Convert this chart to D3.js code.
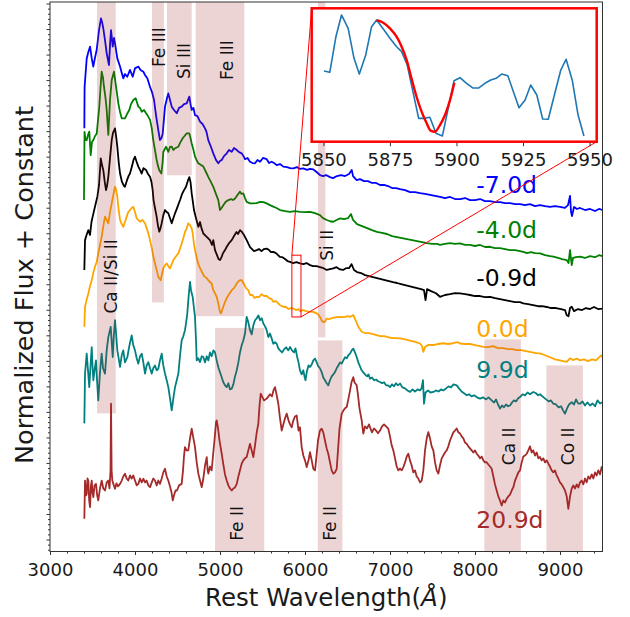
<!DOCTYPE html>
<html>
<head>
<meta charset="utf-8">
<script src="https://cdn.jsdelivr.net/npm/d3@7"></script>
<style>
  body { margin: 0; background: #fff; }
  svg { display: block; }
  text { font-family: "DejaVu Sans", sans-serif; }
</style>
</head>
<body>
<svg id="chart" width="630" height="617"></svg>
<script>
// ---------- spectra: [rest wavelength (Å), normalized flux + constant] ----------
const specM70 = [[3404,16.11],[3407,17.74],[3432,18.85],[3451,19.10],[3471,19.31],[3491,18.85],[3509,18.53],[3529,18.87],[3549,19.18],[3577,19.96],[3600,20.42],[3612,20.28],[3627,20.03],[3647,19.57],[3667,19.05],[3694,18.59],[3706,19.38],[3718,19.96],[3738,19.31],[3753,19.65],[3765,19.44],[3792,18.85],[3824,18.53],[3841,18.32],[3862,18.07],[3882,18.24],[3909,18.13],[3941,18.40],[3973,18.13],[4000,18.46],[4039,18.53],[4065,18.40],[4098,18.33],[4118,18.20],[4145,18.07],[4176,17.74],[4200,17.53],[4224,17.22],[4247,16.63],[4274,16.04],[4294,15.65],[4312,15.73],[4326,15.91],[4353,16.96],[4377,17.30],[4392,17.48],[4412,17.22],[4432,16.96],[4459,16.83],[4491,16.70],[4518,16.91],[4549,16.96],[4577,17.06],[4608,17.09],[4639,17.35],[4653,17.06],[4667,16.83],[4688,16.91],[4706,16.63],[4735,16.59],[4765,16.37],[4794,16.28],[4824,16.11],[4841,15.97],[4862,15.65],[4894,15.38],[4921,15.13],[4953,14.87],[4980,14.74],[5000,14.83],[5020,14.87],[5047,15.02],[5079,15.13],[5106,15.26],[5138,15.19],[5165,15.34],[5197,15.26],[5224,15.18],[5255,15.13],[5277,15.02],[5294,14.90],[5324,14.95],[5353,14.80],[5383,14.75],[5412,14.74],[5441,14.87],[5471,14.80],[5506,14.95],[5549,14.90],[5577,14.75],[5608,14.80],[5636,14.75],[5667,14.67],[5706,14.71],[5745,14.61],[5788,14.59],[5824,14.55],[5863,14.54],[5906,14.59],[5941,14.52],[5980,14.54],[6024,14.48],[6059,14.52],[6098,14.50],[6136,14.40],[6176,14.28],[6212,14.24],[6247,14.28],[6294,14.20],[6329,14.16],[6377,14.24],[6424,14.28],[6471,14.24],[6518,14.32],[6550,14.48],[6565,14.24],[6608,14.08],[6647,14.12],[6694,14.04],[6741,14.04],[6788,13.97],[6836,13.97],[6883,13.89],[6930,13.89],[6977,13.85],[7024,13.77],[7071,13.77],[7118,13.73],[7177,13.69],[7236,13.61],[7294,13.61],[7353,13.57],[7412,13.54],[7471,13.50],[7530,13.46],[7588,13.42],[7647,13.38],[7706,13.42],[7765,13.34],[7824,13.34],[7883,13.38],[7941,13.30],[8000,13.30],[8059,13.34],[8118,13.26],[8177,13.26],[8236,13.22],[8295,13.22],[8353,13.18],[8412,13.18],[8471,13.14],[8530,13.14],[8589,13.10],[8647,13.14],[8706,13.06],[8765,13.10],[8824,13.06],[8883,13.03],[8942,13.06],[9000,13.03],[9059,12.99],[9094,13.10],[9118,13.46],[9130,12.83],[9141,12.67],[9165,13.03],[9200,12.95],[9235,12.99],[9294,12.91],[9353,12.95],[9412,12.87],[9459,12.95],[9500,12.91]];

const specM40 = [[3400,13.30],[3406,15.97],[3418,15.65],[3432,15.65],[3447,15.85],[3462,15.98],[3479,15.06],[3494,15.57],[3510,15.65],[3530,15.81],[3550,15.91],[3565,16.44],[3580,16.96],[3594,17.69],[3608,18.33],[3624,18.08],[3635,17.74],[3653,17.30],[3667,16.83],[3686,15.85],[3706,17.22],[3726,18.00],[3753,18.33],[3777,17.74],[3804,17.09],[3824,16.75],[3844,16.50],[3882,16.50],[3906,16.67],[3933,16.83],[3953,17.06],[3980,17.22],[4008,17.29],[4039,16.96],[4059,16.91],[4079,16.76],[4106,16.83],[4130,16.70],[4153,16.59],[4177,16.44],[4197,16.12],[4215,15.65],[4235,15.26],[4255,14.87],[4271,14.63],[4286,14.47],[4310,14.34],[4324,14.75],[4333,15.19],[4365,15.39],[4392,15.19],[4412,15.38],[4432,15.39],[4453,15.26],[4471,15.33],[4510,15.39],[4535,15.57],[4561,15.72],[4583,15.81],[4608,15.91],[4639,15.91],[4653,15.73],[4667,15.52],[4688,15.26],[4706,15.00],[4724,14.87],[4745,14.74],[4777,14.67],[4804,14.61],[4835,14.40],[4862,14.21],[4894,14.00],[4921,13.82],[4953,13.53],[4980,13.30],[5000,12.91],[5018,12.99],[5039,13.10],[5065,13.22],[5098,13.30],[5130,13.34],[5153,13.30],[5177,13.36],[5206,13.50],[5235,13.63],[5253,13.54],[5274,13.56],[5294,13.38],[5314,13.23],[5353,13.17],[5392,13.17],[5430,13.18],[5471,13.23],[5512,13.22],[5549,13.17],[5588,13.10],[5627,13.04],[5665,12.99],[5706,12.91],[5765,12.87],[5824,12.84],[5883,12.87],[5941,12.84],[6000,12.83],[6059,12.84],[6118,12.79],[6176,12.71],[6212,12.59],[6256,12.52],[6294,12.47],[6333,12.45],[6371,12.52],[6412,12.58],[6459,12.55],[6506,12.59],[6541,12.75],[6565,12.52],[6612,12.36],[6671,12.28],[6730,12.20],[6788,12.12],[6847,12.05],[6906,12.01],[6965,11.97],[7024,11.89],[7083,11.85],[7142,11.81],[7200,11.77],[7259,11.73],[7318,11.69],[7377,11.65],[7436,11.61],[7494,11.58],[7553,11.58],[7588,11.54],[7647,11.58],[7706,11.61],[7765,11.58],[7824,11.60],[7883,11.54],[7941,11.54],[8000,11.50],[8059,11.54],[8118,11.46],[8177,11.47],[8236,11.42],[8295,11.42],[8353,11.38],[8412,11.34],[8471,11.34],[8530,11.30],[8568,11.27],[8612,11.22],[8659,11.26],[8706,11.22],[8765,11.21],[8824,11.14],[8883,11.10],[8922,11.08],[8977,11.03],[9024,10.99],[9079,10.95],[9100,10.83],[9118,11.34],[9138,10.75],[9153,11.03],[9189,11.06],[9235,11.08],[9294,11.03],[9353,11.10],[9412,11.06],[9459,11.14],[9500,11.10]];

const specM09 = [[3404,10.56],[3412,11.73],[3430,11.93],[3451,12.12],[3471,11.93],[3488,12.44],[3502,12.65],[3529,13.04],[3557,13.43],[3577,13.89],[3597,14.93],[3612,14.67],[3627,14.47],[3644,14.01],[3659,13.69],[3671,13.85],[3686,14.21],[3706,14.94],[3726,15.65],[3741,15.93],[3765,16.11],[3779,15.77],[3792,15.39],[3808,14.79],[3824,14.34],[3847,14.01],[3871,13.85],[3882,13.82],[3906,14.08],[3924,14.24],[3941,14.34],[3965,14.63],[3982,14.87],[4000,15.00],[4020,14.79],[4039,14.61],[4059,14.48],[4079,14.34],[4100,14.55],[4130,14.48],[4153,14.32],[4177,14.21],[4194,14.01],[4208,13.69],[4218,13.30],[4235,12.99],[4255,12.64],[4271,12.28],[4286,12.06],[4300,12.20],[4314,12.39],[4333,12.71],[4353,12.91],[4373,12.83],[4392,12.78],[4412,12.59],[4432,12.39],[4451,12.59],[4471,12.78],[4500,13.03],[4530,13.30],[4553,13.53],[4577,13.69],[4600,13.82],[4624,14.08],[4639,14.20],[4653,14.01],[4667,13.56],[4683,13.18],[4694,12.91],[4718,12.59],[4745,12.25],[4765,12.44],[4782,12.20],[4804,11.99],[4835,11.89],[4859,11.81],[4882,11.73],[4906,11.54],[4921,11.73],[4941,11.34],[4965,11.14],[4982,10.99],[5000,10.95],[5018,11.06],[5035,11.22],[5059,11.34],[5079,11.47],[5106,11.61],[5138,11.73],[5165,11.89],[5194,12.05],[5212,11.97],[5235,12.12],[5259,12.05],[5282,11.93],[5314,11.73],[5335,11.58],[5353,11.46],[5377,11.38],[5400,11.30],[5432,11.34],[5459,11.38],[5488,11.30],[5518,11.38],[5549,11.40],[5577,11.34],[5600,11.26],[5627,11.27],[5659,11.22],[5683,11.14],[5706,11.07],[5735,11.06],[5765,10.99],[5794,10.91],[5824,10.88],[5859,10.83],[5900,10.87],[5941,10.82],[5980,10.79],[6018,10.83],[6059,10.75],[6094,10.71],[6136,10.71],[6176,10.67],[6218,10.63],[6256,10.56],[6294,10.59],[6333,10.62],[6371,10.67],[6412,10.58],[6447,10.56],[6483,10.63],[6518,10.63],[6547,10.79],[6577,10.56],[6612,10.48],[6659,10.44],[6706,10.36],[6753,10.32],[6800,10.28],[6847,10.24],[6894,10.20],[6941,10.16],[6988,10.12],[7035,10.08],[7083,10.05],[7130,10.01],[7177,9.97],[7224,9.93],[7271,9.89],[7318,9.85],[7365,9.81],[7400,9.77],[7418,9.38],[7436,9.81],[7483,9.73],[7541,9.65],[7588,9.51],[7647,9.58],[7706,9.61],[7765,9.65],[7824,9.64],[7883,9.61],[7941,9.58],[8000,9.54],[8059,9.54],[8118,9.50],[8177,9.51],[8236,9.46],[8295,9.42],[8353,9.38],[8412,9.34],[8471,9.30],[8530,9.30],[8568,9.25],[8624,9.22],[8683,9.18],[8742,9.14],[8789,9.14],[8844,9.11],[8894,9.07],[8953,9.07],[9012,9.03],[9059,8.99],[9079,8.79],[9100,8.75],[9118,9.07],[9138,9.12],[9165,8.95],[9212,9.03],[9259,8.99],[9306,9.07],[9353,9.03],[9400,9.11],[9447,9.03],[9500,9.05]];

const spec000 = [[3404,8.33],[3412,9.12],[3430,9.38],[3451,9.64],[3471,9.93],[3491,10.16],[3512,10.48],[3529,10.69],[3549,10.87],[3568,11.21],[3588,11.54],[3608,11.86],[3627,12.28],[3647,12.65],[3667,12.52],[3686,12.39],[3706,12.83],[3726,13.17],[3745,13.50],[3765,13.82],[3779,13.69],[3792,13.43],[3808,12.91],[3824,12.52],[3844,12.36],[3862,12.25],[3882,12.44],[3902,12.65],[3921,12.83],[3941,12.91],[3961,12.99],[3980,13.04],[4000,12.83],[4020,12.58],[4039,12.52],[4059,12.45],[4088,12.52],[4118,12.39],[4137,12.20],[4157,11.99],[4177,11.73],[4197,11.41],[4215,11.10],[4235,10.82],[4255,10.56],[4274,10.29],[4294,10.20],[4302,10.16],[4318,10.40],[4333,10.62],[4353,10.75],[4373,10.82],[4392,10.71],[4412,10.62],[4432,10.79],[4451,10.95],[4477,11.07],[4510,11.21],[4536,11.46],[4568,11.80],[4588,12.05],[4608,12.19],[4627,12.39],[4647,12.32],[4667,12.19],[4679,11.99],[4694,11.57],[4706,11.34],[4726,11.03],[4745,10.79],[4765,10.63],[4788,10.48],[4812,10.32],[4844,10.24],[4871,10.12],[4902,10.03],[4921,9.77],[4941,9.65],[4961,9.51],[4982,9.22],[5000,8.91],[5012,8.86],[5032,9.05],[5053,9.26],[5079,9.46],[5106,9.61],[5138,9.77],[5165,9.85],[5197,10.03],[5218,10.12],[5235,10.16],[5255,10.16],[5282,10.01],[5306,9.85],[5333,9.77],[5353,9.58],[5382,9.58],[5406,9.46],[5432,9.51],[5459,9.50],[5488,9.61],[5518,9.54],[5549,9.54],[5577,9.46],[5606,9.42],[5627,9.31],[5659,9.34],[5683,9.26],[5706,9.18],[5745,9.12],[5777,9.11],[5806,9.03],[5836,9.07],[5863,9.05],[5894,8.99],[5924,9.03],[5941,8.95],[5980,8.99],[6012,8.95],[6059,8.92],[6098,8.92],[6130,8.87],[6153,8.83],[6176,8.72],[6200,8.56],[6218,8.52],[6235,8.53],[6255,8.66],[6282,8.63],[6318,8.67],[6365,8.71],[6412,8.72],[6459,8.71],[6506,8.75],[6530,8.72],[6568,8.79],[6594,8.60],[6624,8.36],[6667,8.14],[6706,8.09],[6753,8.09],[6800,8.05],[6843,8.01],[6883,7.97],[6930,7.97],[6977,7.93],[7024,7.89],[7071,7.89],[7118,7.88],[7165,7.85],[7212,7.81],[7259,7.77],[7306,7.73],[7353,7.68],[7377,7.58],[7392,7.35],[7412,7.54],[7447,7.62],[7510,7.62],[7565,7.66],[7624,7.69],[7683,7.66],[7741,7.69],[7800,7.73],[7824,7.68],[7883,7.66],[7941,7.66],[8000,7.62],[8059,7.58],[8098,7.55],[8153,7.54],[8212,7.58],[8271,7.50],[8330,7.50],[8389,7.46],[8436,7.46],[8491,7.42],[8542,7.42],[8600,7.38],[8659,7.34],[8718,7.30],[8765,7.29],[8824,7.22],[8883,7.14],[8942,7.06],[9000,7.02],[9036,6.99],[9079,6.96],[9118,7.10],[9153,7.03],[9196,7.09],[9235,7.02],[9283,7.06],[9330,6.99],[9377,7.06],[9424,7.02],[9459,7.14],[9491,7.22],[9500,7.14]];

const specP99 = [[3404,4.55],[3412,6.50],[3432,7.28],[3447,6.63],[3462,5.97],[3477,6.82],[3491,7.54],[3500,6.82],[3510,6.24],[3524,6.63],[3541,7.02],[3553,6.24],[3568,5.45],[3588,6.55],[3608,7.28],[3624,6.71],[3647,6.50],[3667,7.41],[3686,7.93],[3714,8.33],[3738,7.15],[3751,8.00],[3765,8.59],[3779,8.00],[3792,7.41],[3824,6.76],[3844,7.22],[3862,7.41],[3882,6.94],[3910,7.15],[3935,7.61],[3961,8.00],[3980,7.61],[4000,7.41],[4020,7.10],[4039,6.89],[4059,7.18],[4079,7.28],[4098,6.94],[4118,6.50],[4137,6.82],[4157,6.95],[4177,6.71],[4197,6.50],[4215,6.71],[4235,6.82],[4255,6.63],[4274,6.69],[4294,7.02],[4314,7.28],[4333,6.82],[4353,6.50],[4373,6.24],[4392,5.97],[4412,5.53],[4432,5.06],[4451,5.53],[4471,5.97],[4491,6.24],[4510,6.50],[4530,7.22],[4549,7.80],[4568,7.96],[4588,8.20],[4602,8.51],[4615,8.85],[4632,9.57],[4647,10.09],[4659,9.76],[4679,9.50],[4694,9.06],[4706,8.72],[4718,7.80],[4726,7.02],[4745,7.10],[4765,6.95],[4785,7.18],[4804,7.15],[4824,6.94],[4844,7.18],[4863,7.02],[4882,7.33],[4902,7.18],[4922,7.41],[4941,7.33],[4961,7.02],[4980,6.75],[5000,6.55],[5020,6.36],[5039,6.16],[5059,6.04],[5079,5.97],[5098,6.12],[5118,5.88],[5138,5.91],[5157,6.08],[5177,6.39],[5197,6.63],[5216,6.94],[5235,7.33],[5255,7.61],[5274,7.80],[5294,8.07],[5314,8.72],[5333,8.51],[5353,8.20],[5373,8.04],[5392,8.39],[5412,8.59],[5432,8.67],[5451,8.78],[5471,8.59],[5490,8.67],[5510,8.46],[5530,8.35],[5549,8.20],[5569,7.93],[5588,8.07],[5608,7.88],[5627,7.67],[5647,7.73],[5667,7.67],[5686,7.49],[5706,7.41],[5730,7.33],[5753,7.45],[5777,7.53],[5804,7.41],[5824,7.54],[5847,7.41],[5871,7.33],[5888,7.49],[5906,7.18],[5924,6.94],[5941,6.63],[5961,6.47],[5980,6.63],[5994,6.39],[6006,6.24],[6020,6.55],[6041,6.82],[6059,6.76],[6079,6.86],[6098,7.02],[6118,7.09],[6138,6.94],[6157,6.78],[6176,6.71],[6196,6.56],[6215,6.35],[6235,6.24],[6255,6.12],[6274,6.04],[6294,6.24],[6314,6.39],[6333,6.47],[6353,6.56],[6373,6.71],[6392,6.82],[6412,6.94],[6432,6.89],[6451,7.02],[6471,7.14],[6491,7.10],[6510,7.22],[6530,7.28],[6550,7.41],[6568,7.48],[6588,7.33],[6608,7.15],[6627,6.94],[6647,6.78],[6667,6.63],[6686,6.55],[6706,6.47],[6730,6.39],[6747,6.47],[6765,6.30],[6788,6.35],[6812,6.24],[6836,6.27],[6859,6.20],[6883,6.17],[6906,6.12],[6930,6.16],[6953,6.04],[6977,6.04],[7000,5.97],[7024,6.08],[7047,6.00],[7071,6.12],[7094,6.04],[7118,6.11],[7147,5.96],[7177,5.92],[7206,5.84],[7236,5.78],[7265,5.88],[7294,5.80],[7324,5.88],[7353,5.84],[7371,5.92],[7388,6.24],[7400,5.32],[7418,5.76],[7447,5.84],[7477,5.76],[7510,5.78],[7541,5.84],[7571,5.80],[7600,5.88],[7627,5.84],[7659,5.92],[7689,6.00],[7718,5.96],[7747,6.08],[7785,6.04],[7812,5.92],[7842,5.80],[7871,5.73],[7903,5.65],[7930,5.69],[7959,5.61],[7989,5.65],[8024,5.57],[8059,5.52],[8094,5.57],[8130,5.49],[8159,5.57],[8196,5.45],[8224,5.37],[8247,5.49],[8271,5.29],[8295,5.13],[8318,5.25],[8341,5.18],[8365,5.29],[8389,5.22],[8412,5.25],[8436,5.37],[8459,5.45],[8483,5.41],[8506,5.53],[8530,5.58],[8559,5.69],[8589,5.65],[8618,5.76],[8647,5.69],[8686,5.78],[8718,5.73],[8742,5.65],[8765,5.69],[8804,5.58],[8836,5.49],[8865,5.41],[8894,5.45],[8921,5.32],[8953,5.29],[8983,5.18],[9012,5.22],[9036,5.06],[9059,4.93],[9083,5.14],[9106,5.29],[9138,5.38],[9165,5.29],[9189,5.49],[9212,5.33],[9235,5.32],[9265,5.41],[9294,5.25],[9324,5.37],[9353,5.25],[9383,5.33],[9412,5.22],[9441,5.45],[9471,5.33],[9500,5.38]];

const specP209 = [[3404,0.81],[3412,2.31],[3424,1.73],[3432,1.79],[3441,2.39],[3451,2.31],[3461,1.53],[3471,1.27],[3482,2.12],[3491,2.31],[3500,1.84],[3510,1.66],[3524,2.12],[3541,2.18],[3555,1.73],[3568,1.53],[3588,2.00],[3608,2.31],[3627,2.00],[3647,1.92],[3667,2.24],[3686,2.31],[3700,2.00],[3712,2.71],[3718,5.32],[3725,2.71],[3733,2.31],[3747,2.16],[3765,1.99],[3782,2.20],[3800,2.08],[3824,2.18],[3844,2.31],[3862,2.47],[3882,2.58],[3902,2.39],[3921,2.31],[3941,2.51],[3961,2.39],[3980,2.51],[4000,2.31],[4020,2.12],[4039,2.18],[4059,2.39],[4079,2.24],[4098,2.38],[4118,2.24],[4137,2.31],[4157,2.12],[4177,2.05],[4197,2.24],[4215,2.39],[4235,2.31],[4255,2.12],[4274,2.31],[4294,2.18],[4314,2.39],[4333,2.63],[4353,2.77],[4373,2.47],[4392,2.31],[4412,2.08],[4430,1.84],[4444,1.53],[4459,1.73],[4477,1.92],[4494,1.92],[4518,2.12],[4549,2.18],[4565,2.71],[4577,3.29],[4588,3.62],[4606,3.49],[4627,3.49],[4647,3.96],[4667,4.34],[4683,4.04],[4706,3.62],[4726,3.02],[4745,2.58],[4765,2.31],[4785,2.05],[4804,2.39],[4824,2.90],[4844,3.23],[4855,2.71],[4863,2.58],[4882,2.86],[4902,2.71],[4918,3.29],[4935,3.88],[4953,4.59],[4961,4.67],[4977,4.35],[4994,3.88],[5020,3.36],[5041,2.90],[5059,2.55],[5079,2.31],[5098,2.12],[5118,2.00],[5138,1.92],[5157,2.00],[5177,2.04],[5197,2.18],[5216,2.47],[5235,2.71],[5255,2.97],[5274,3.10],[5294,3.18],[5314,3.23],[5333,3.49],[5353,3.75],[5373,3.49],[5392,3.23],[5412,3.69],[5432,4.20],[5451,4.54],[5465,5.25],[5479,5.71],[5494,5.61],[5518,5.45],[5549,5.52],[5571,5.61],[5588,5.69],[5612,5.61],[5629,5.84],[5647,5.97],[5665,5.69],[5686,5.32],[5706,4.75],[5726,4.27],[5745,4.51],[5765,4.75],[5785,4.93],[5806,4.67],[5824,4.51],[5844,4.40],[5863,4.67],[5883,4.82],[5902,4.86],[5924,4.27],[5941,4.40],[5961,3.62],[5980,3.29],[6000,3.10],[6020,2.84],[6041,3.10],[6059,3.42],[6079,3.10],[6098,2.77],[6118,2.71],[6136,3.29],[6153,3.88],[6176,4.27],[6196,4.34],[6215,4.20],[6235,3.88],[6255,3.57],[6274,3.36],[6294,3.02],[6314,2.71],[6333,2.58],[6353,2.63],[6373,2.77],[6388,3.49],[6406,4.35],[6432,4.93],[6453,5.06],[6471,5.14],[6491,5.19],[6512,5.53],[6530,5.84],[6547,6.16],[6568,6.36],[6582,6.16],[6608,6.04],[6624,5.65],[6641,5.14],[6667,4.67],[6686,4.15],[6706,4.43],[6730,4.35],[6753,4.51],[6765,4.40],[6788,4.20],[6812,4.35],[6836,4.27],[6859,4.16],[6883,4.27],[6906,4.43],[6930,4.51],[6953,4.43],[6980,4.34],[7000,4.04],[7020,3.69],[7039,3.49],[7059,3.18],[7079,2.86],[7098,2.71],[7118,2.78],[7138,2.71],[7157,2.84],[7177,3.02],[7197,3.25],[7216,3.36],[7235,3.10],[7255,2.90],[7274,2.63],[7294,2.71],[7314,2.47],[7333,2.39],[7353,2.24],[7373,2.31],[7392,2.71],[7412,3.49],[7432,3.96],[7451,4.21],[7471,3.96],[7490,3.65],[7510,3.49],[7530,3.02],[7549,2.71],[7569,2.58],[7588,2.90],[7608,3.18],[7627,3.29],[7647,3.41],[7667,3.49],[7686,3.65],[7706,3.88],[7726,4.04],[7745,4.20],[7765,4.27],[7784,4.35],[7804,4.20],[7824,4.15],[7843,4.04],[7863,3.96],[7882,3.80],[7902,3.75],[7921,3.65],[7941,3.57],[7961,3.49],[7980,3.41],[8000,3.49],[8020,3.36],[8039,3.29],[8059,3.18],[8079,3.25],[8098,3.10],[8118,3.02],[8137,3.03],[8157,2.94],[8177,2.86],[8196,2.77],[8216,2.47],[8235,2.16],[8255,1.92],[8274,1.69],[8294,1.53],[8314,1.33],[8333,1.53],[8353,1.45],[8373,1.60],[8392,1.69],[8412,1.76],[8432,1.92],[8451,2.05],[8471,2.31],[8491,2.47],[8510,2.63],[8530,2.71],[8549,3.02],[8569,3.25],[8588,3.29],[8608,3.36],[8627,3.49],[8647,3.65],[8667,3.41],[8686,3.49],[8706,3.29],[8726,3.41],[8745,3.18],[8765,3.23],[8784,3.10],[8804,3.18],[8824,3.02],[8844,3.10],[8863,2.97],[8882,2.86],[8902,2.71],[8922,2.63],[8941,2.71],[8961,2.51],[8980,2.39],[9000,2.24],[9020,2.16],[9039,2.05],[9059,1.92],[9079,1.69],[9098,1.20],[9118,1.69],[9138,2.00],[9157,2.12],[9177,2.00],[9197,2.16],[9216,2.04],[9235,2.24],[9255,2.31],[9275,2.16],[9294,2.39],[9314,2.24],[9333,2.47],[9353,2.38],[9373,2.55],[9392,2.39],[9412,2.63],[9431,2.51],[9451,2.71],[9471,2.55],[9490,2.84],[9500,2.71]];

// ---------- series metadata ----------
const epochs = ["-7.0d", "-4.0d", "-0.9d", "0.0d", "9.9d", "20.9d"];
const epochColors = ["blue", "green", "black", "orange", "teal", "brown"];
const epochLabelFlux = [13.88, 12.12, 10.24, 8.24, 6.63, 0.75];
const epochLabelLambda = 8015;
const spectra = [specM70, specM40, specM09, spec000, specP99, specP209];

// ---------- line identification bands ----------
const bandNames  = ["Ca II/Si II", "Fe III", "Si III", "Fe III", "Si II", "Fe II", "Fe II", "Ca II", "Co II"];
const bandStart  = [3553, 4200, 4376, 4714, 6153, 4941, 6150, 8110, 8840];
const bandEnd    = [3773, 4340, 4667, 5286, 6240, 5521, 6440, 8540, 9270];
const bandLow    = [4.94, 9.29, 14.27, 8.75, 7.92, null, null, null, null];   // null = axis bottom
const bandHigh   = [null, null, null, null, null, 8.29, 7.80, 7.84, 6.82];    // null = axis top
const bandTextLambda = [3718, 4283, 4577, 5082, 6259, 5200, 6294, 8400, 9094];
const bandTextFlux   = [10.31, 19.29, 18.75, 18.78, 11.53, 0.63, 0.63, 3.65, 3.65];

// ---------- axes ----------
const xDomain = [3000, 9500];
const yDomain = [-0.47, 21.06];
const xMajorTicks = [3000, 4000, 5000, 6000, 7000, 8000, 9000];

// ---------- zoomed Si II region ----------
const zoomLambda = [5845.6, 5952.7];
const zoomFlux = [8.72, 11.14];
const insetTicks = [5850, 5875, 5900, 5925, 5950];
const insetLambda = [5850.2,5852.4,5854.7,5856.8,5859.3,5861.5,5863.5,5865.9,5868.1,5870.0,5872.3,5875.0,5877.5,5879.4,5881.5,5883.5,5885.8,5887.8,5890.0,5892.3,5894.7,5896.9,5899.1,5901.3,5903.8,5906.1,5908.4,5910.7,5912.9,5914.9,5917.0,5919.3,5921.4,5923.5,5925.8,5927.9,5930.2,5932.4,5934.5,5936.8,5939.2,5941.2,5943.5,5945.7,5947.9];
const insetFlux = [0.530,0.520,0.787,0.950,0.850,0.625,0.507,0.650,0.862,0.912,0.850,0.775,0.712,0.675,0.575,0.388,0.175,0.175,0.183,0.063,0.043,0.250,0.457,0.480,0.438,0.403,0.403,0.438,0.463,0.475,0.507,0.495,0.375,0.255,0.313,0.425,0.350,0.170,0.168,0.350,0.537,0.618,0.463,0.200,0.043];
const fitLambda = [5870.0,5872.5,5875.0,5877.5,5879.4,5881.3,5883.1,5885.0,5886.9,5888.8,5890.3,5891.9,5893.8,5895.7,5897.6,5899.2];
const fitFlux   = [0.912,0.892,0.850,0.787,0.712,0.612,0.475,0.337,0.225,0.138,0.083,0.075,0.125,0.200,0.313,0.442];

// ---------- drawing ----------
const svg = d3.select("#chart");
const plot = { left: 50, right: 602.5, top: 2, bottom: 551.5 };
const x = d3.scaleLinear().domain(xDomain).range([plot.left, plot.right]);
const y = d3.scaleLinear().domain(yDomain).range([plot.bottom, plot.top]);

svg.append("defs").append("clipPath").attr("id", "plotClip")
  .append("rect").attr("x", plot.left).attr("y", plot.top)
  .attr("width", plot.right - plot.left).attr("height", plot.bottom - plot.top);

const lineGen = d3.line().x(d => x(d[0])).y(d => y(d[1]));
const body = svg.append("g").attr("clip-path", "url(#plotClip)");

spectra.forEach((s, i) => {
  body.append("path").datum(s)
    .attr("d", lineGen)
    .attr("fill", "none")
    .attr("stroke", epochColors[i])
    .attr("stroke-width", 1.8)
    .attr("stroke-linejoin", "round");
});

// shaded bands (drawn over the spectra, translucent)
bandNames.forEach((name, i) => {
  const lo = bandLow[i] === null ? yDomain[0] : bandLow[i];
  const hi = bandHigh[i] === null ? yDomain[1] : bandHigh[i];
  body.append("rect")
    .attr("x", x(bandStart[i])).attr("width", x(bandEnd[i]) - x(bandStart[i]))
    .attr("y", y(hi)).attr("height", y(lo) - y(hi))
    .attr("fill", "brown").attr("fill-opacity", 0.2);
});

// band labels
bandNames.forEach((name, i) => {
  const tx = x(bandTextLambda[i]), ty = y(bandTextFlux[i]);
  svg.append("text")
    .attr("transform", `translate(${tx},${ty}) rotate(-90)`)
    .attr("text-anchor", "middle")
    .attr("dominant-baseline", "central")
    .attr("font-size", 17)
    .attr("fill", "#111")
    .text(name);
});

// epoch labels
epochs.forEach((e, i) => {
  svg.append("text")
    .attr("x", x(epochLabelLambda)).attr("y", y(epochLabelFlux[i]))
    .attr("dominant-baseline", "central")
    .attr("font-size", 23.5)
    .attr("fill", epochColors[i])
    .text(e);
});

// axes
const xMinor = d3.range(3000, 9500, 200).filter(v => v % 1000 !== 0);
svg.append("g").attr("transform", `translate(0,${plot.bottom})`)
  .call(d3.axisBottom(x).tickValues(xMinor).tickSize(2).tickFormat(""))
  .call(g => g.select(".domain").remove());
const xAx = svg.append("g").attr("transform", `translate(0,${plot.bottom})`)
  .call(d3.axisBottom(x).tickValues(xMajorTicks).tickSize(3.5).tickPadding(8).tickFormat(d3.format("d")));
xAx.select(".domain").remove();
xAx.selectAll("text").attr("font-size", 18).attr("fill", "#1a1a1a").attr("font-family", "DejaVu Sans");

const yMajor = d3.range(0, 22);
const yMinor = d3.range(-2, 106).map(k => k / 5).filter(v => v % 1 !== 0 && v >= yDomain[0] && v <= yDomain[1]);
svg.append("g").attr("transform", `translate(${plot.left},0)`)
  .call(d3.axisLeft(y).tickValues(yMinor).tickSize(2).tickFormat(""))
  .call(g => g.select(".domain").remove());
svg.append("g").attr("transform", `translate(${plot.left},0)`)
  .call(d3.axisLeft(y).tickValues(yMajor).tickSize(3.5).tickFormat(""))
  .call(g => g.select(".domain").remove());
svg.selectAll(".tick line").attr("stroke", "#333");

// frame
svg.append("rect")
  .attr("x", plot.left).attr("y", plot.top)
  .attr("width", plot.right - plot.left).attr("height", plot.bottom - plot.top)
  .attr("fill", "none").attr("stroke", "#333").attr("stroke-width", 1);

// axis titles
svg.append("text")
  .attr("x", (plot.left + plot.right) / 2).attr("y", 606)
  .attr("text-anchor", "middle").attr("font-size", 24.5).attr("fill", "#1a1a1a")
  .text("Rest Wavelength(")
  .call(t => t.append("tspan").attr("font-style", "italic").text("Å"))
  .call(t => t.append("tspan").text(")"));
svg.append("text")
  .attr("transform", `translate(24,285) rotate(-90)`)
  .attr("text-anchor", "middle").attr("dominant-baseline", "central")
  .attr("font-size", 25.5).attr("fill", "#1a1a1a")
  .text("Normalized Flux + Constant");

// ---------- inset ----------
const inset = { left: 311.7, right: 596.7, top: 8.3, bottom: 141.7 };
const ix = d3.scaleLinear().domain(zoomLambda).range([inset.left, inset.right]);
const iy = d3.scaleLinear().domain([0, 1]).range([inset.bottom, inset.top]);

// region marker and connectors
svg.append("rect")
  .attr("x", x(zoomLambda[0])).attr("y", y(zoomFlux[1]))
  .attr("width", x(zoomLambda[1]) - x(zoomLambda[0]))
  .attr("height", y(zoomFlux[0]) - y(zoomFlux[1]))
  .attr("fill", "none").attr("stroke", "red").attr("stroke-width", 1);
svg.append("line")
  .attr("x1", inset.left).attr("y1", inset.top)
  .attr("x2", x(zoomLambda[0])).attr("y2", y(zoomFlux[1]))
  .attr("stroke", "red").attr("stroke-width", 1);
svg.append("line")
  .attr("x1", inset.right).attr("y1", inset.bottom)
  .attr("x2", x(zoomLambda[1])).attr("y2", y(zoomFlux[0]))
  .attr("stroke", "red").attr("stroke-width", 1);

const ig = svg.append("g");
ig.append("rect")
  .attr("x", inset.left).attr("y", inset.top)
  .attr("width", inset.right - inset.left).attr("height", inset.bottom - inset.top)
  .attr("fill", "#fff");
ig.append("path")
  .datum(insetLambda.map((l, i) => [l, insetFlux[i]]))
  .attr("d", d3.line().x(d => ix(d[0])).y(d => iy(d[1])))
  .attr("fill", "none").attr("stroke", "#1f77b4").attr("stroke-width", 1.6)
  .attr("stroke-linejoin", "round");
ig.append("path")
  .datum(fitLambda.map((l, i) => [l, fitFlux[i]]))
  .attr("d", d3.line().curve(d3.curveMonotoneX).x(d => ix(d[0])).y(d => iy(d[1])))
  .attr("fill", "none").attr("stroke", "red").attr("stroke-width", 2.4);
ig.append("rect")
  .attr("x", inset.left).attr("y", inset.top)
  .attr("width", inset.right - inset.left).attr("height", inset.bottom - inset.top)
  .attr("fill", "none").attr("stroke", "red").attr("stroke-width", 2.5);
const iAx = ig.append("g").attr("transform", `translate(0,${inset.bottom + 1})`)
  .call(d3.axisBottom(ix).tickValues(insetTicks).tickSize(3.5).tickPadding(7).tickFormat(d3.format("d")));
iAx.select(".domain").remove();
iAx.selectAll("line").attr("stroke", "#333");
iAx.selectAll("text").attr("font-size", 18).attr("fill", "#1a1a1a").attr("font-family", "DejaVu Sans");
</script>
</body>
</html>
